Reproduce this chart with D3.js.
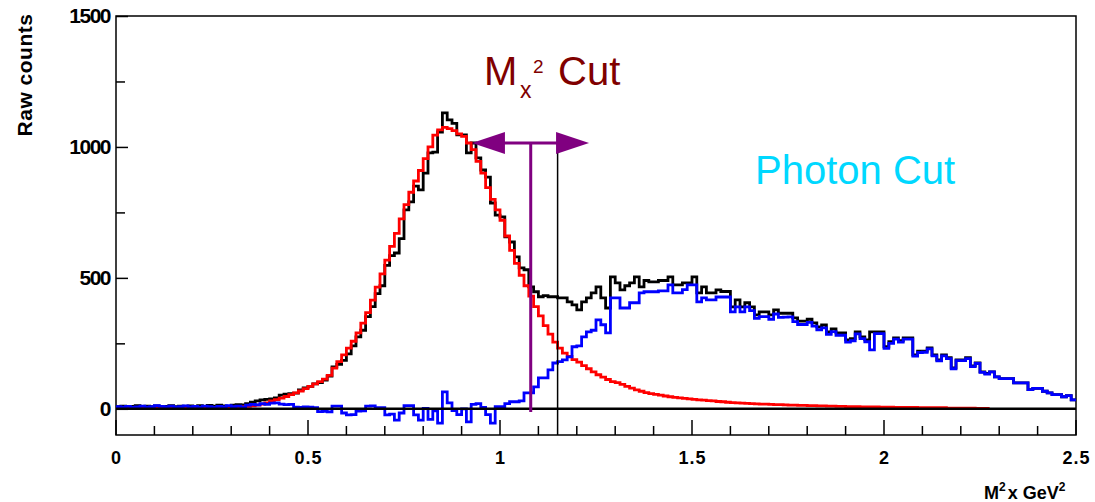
<!DOCTYPE html>
<html>
<head>
<meta charset="utf-8">
<script src="https://cdn.jsdelivr.net/npm/d3@7"></script>
<style>
  body { margin: 0; background: #fff; }
  svg { display: block; font-family: "Liberation Sans", Arial, sans-serif; }
</style>
</head>
<body>
<div id="chart"></div>
<script>
// histogram bin width in GeV^2 (200 bins from 0 to 2.5)
var binWidth = 0.0125;

// black: all events
var totalCounts = [
    8, 10, 6, 9, 12, 7, 10, 8,
    11, 6, 9, 12, 8, 10, 7, 11,
    9, 12, 8, 13, 10, 14, 11, 9,
    14, 16, 15, 20, 25, 30, 34, 36,
    38, 42, 52, 56, 58, 60, 72, 80,
    86, 95, 100, 110, 125, 160, 170, 185,
    210, 240, 275, 300, 352, 390, 440, 470,
    548, 585, 595, 650, 760, 790, 850, 836,
    900, 977, 980, 1057, 1130, 1103, 1090, 1046,
    1046, 977, 1015, 958, 912, 885, 786, 740,
    733, 657, 637, 580, 538, 531, 466, 447,
    428, 432, 428, 428, 424, 424, 408, 397,
    378, 408, 424, 443, 466, 424, 385, 504,
    481, 454, 470, 481, 504, 466, 490, 485,
    485, 490, 490, 504, 473, 473, 481, 481,
    504, 443, 466, 443, 443, 454, 448, 448,
    389, 416, 389, 405, 389, 359, 370, 370,
    359, 378, 365, 365, 365, 347, 335, 335,
    342, 328, 313, 320, 294, 305, 290, 290,
    263, 268, 294, 275, 263, 294, 294, 294,
    237, 256, 271, 260, 271, 271, 206, 220,
    220, 233, 206, 187, 206, 195, 156, 187,
    187, 195, 164, 175, 141, 135, 141, 122,
    115, 115, 115, 99, 99, 99, 73, 78,
    78, 67, 61, 54, 54, 46, 50, 34
];

// red: fitted peak (ends at 2.275)
var fitCounts = [
    1, 1, 1, 1, 1, 1, 2, 2,
    2, 2, 2, 2, 2, 3, 3, 3,
    3, 3, 4, 4, 4, 5, 5, 6,
    6, 7, 8, 9, 11, 14, 18, 23,
    30, 35, 41, 47, 54, 61, 68, 77,
    86, 95, 104, 113, 128, 155, 180, 206,
    232, 258, 290, 327, 367, 415, 465, 515,
    568, 620, 670, 725, 780, 827, 870, 910,
    955, 1000, 1045, 1065, 1075, 1070, 1062, 1050,
    1040, 1015, 990, 945, 900, 845, 800, 760,
    720, 660, 605, 555, 510, 470, 430, 390,
    355, 318, 285, 255, 232, 213, 200, 188,
    178, 165, 153, 141, 130, 121, 112, 104,
    100, 93, 86, 79, 72, 67, 62, 58,
    55, 52, 49, 46, 44, 42, 40, 38,
    36, 34, 33, 31, 30, 28, 27, 25,
    24, 23, 22, 21, 20, 19, 18, 18,
    17, 16, 16, 15, 14, 14, 13, 13,
    12, 12, 11, 11, 10, 10, 9, 9,
    8, 8, 8, 7, 7, 7, 7, 6,
    6, 6, 5, 5, 5, 5, 5, 4,
    4, 4, 4, 4, 4, 3, 3, 3,
    3, 3, 3, 2, 2, 2
];

// blue: events after the photon cut
var subtractedCounts = [
    8, 6, 9, 5, 7, 10, 6, 8,
    12, 9, 7, 10, 6, 8, 11, 7,
    9, 6, 10, 8, 5, 9, 7, 12,
    8, 10, 6, 14, 17, 15, 20, 17,
    22, 23, 18, 16, 17, 6, 5, 7,
    6, 4, -11, -10, -12, 10, 10, -16,
    -23, -22, -9, -8, 10, 11, 4, 4,
    -23, -20, -43, -16, 12, 12, -23, -43,
    2, -40, -8, -55, 65, 23, -7, -22,
    0, -50, 17, 20, 5, -22, -55, 8,
    8, 20, 27, 27, 30, 61, 61, 84,
    118, 118, 149, 175, 180, 187, 198, 237,
    240, 275, 294, 300, 340, 321, 290, 424,
    424, 385, 385, 405, 405, 443, 447, 447,
    447, 450, 450, 473, 443, 443, 455, 473,
    473, 408, 424, 416, 416, 427, 427, 427,
    370, 389, 370, 389, 375, 345, 352, 352,
    342, 362, 349, 350, 351, 333, 322, 322,
    330, 316, 302, 309, 284, 295, 281, 281,
    255, 260, 286, 268, 256, 225, 287, 287,
    231, 250, 266, 255, 266, 266, 201, 215,
    216, 229, 202, 183, 202, 192, 153, 184,
    184, 192, 161, 173, 139, 133, 141, 122,
    115, 115, 115, 99, 99, 99, 73, 78,
    78, 67, 61, 54, 54, 46, 50, 34
];

var xMajorTicks = [0, 0.5, 1, 1.5, 2, 2.5];
var xMinorTicks = [0.1, 0.2, 0.3, 0.4, 0.6, 0.7, 0.8, 0.9, 1.1, 1.2, 1.3, 1.4,
                   1.6, 1.7, 1.8, 1.9, 2.1, 2.2, 2.3, 2.4];
var yMajorTicks = [0, 500, 1000, 1500];
var yMinorTicks = [250, 750, 1250];

// cut markers
var mx2Cut = 1.08;
var photonCutLine = 1.15;
var arrowRange = [0.927, 1.232];
var arrowLevel = 1015;

function init() {
    var width = 1095;
    var height = 502;
    var left = 116, right = 1076, top = 16, bottom = 435;

    var svg = d3.select("#chart")
                .append("svg")
                .attr("width", width)
                .attr("height", height);

    svg.append("rect")
        .attr("width", width)
        .attr("height", height)
        .attr("fill", "#fff");

    var xScale = d3.scaleLinear().domain([0, 2.5]).range([left, right]);
    var yScale = d3.scaleLinear().domain([-100, 1500]).range([bottom, top]);

    // frame
    svg.append("rect")
        .attr("x", left)
        .attr("y", top)
        .attr("width", right - left)
        .attr("height", bottom - top)
        .attr("fill", "none")
        .attr("stroke", "#000")
        .attr("stroke-width", 1.5);

    // X axis labels
    var xAxis = d3.axisBottom(xScale)
                .tickValues(xMajorTicks)
                .tickSize(0)
                .tickPadding(16)
                .tickFormat(d3.format("~g"));
    var gx = svg.append("g")
        .attr("transform", "translate(0," + bottom + ")")
        .call(xAxis);
    gx.select(".domain").remove();
    gx.selectAll("text")
        .style("font-size", "18px")
        .style("font-weight", "bold")
        .style("letter-spacing", "1px")
        .attr("fill", "#000");

    // X ticks pointing up into the frame
    svg.selectAll("line.xmajor")
        .data(xMajorTicks)
        .enter()
        .append("line")
        .attr("class", "xmajor")
        .attr("x1", function(d) { return xScale(d); })
        .attr("x2", function(d) { return xScale(d); })
        .attr("y1", bottom)
        .attr("y2", bottom - 15)
        .attr("stroke", "#000")
        .attr("stroke-width", 1.5);
    svg.selectAll("line.xminor")
        .data(xMinorTicks)
        .enter()
        .append("line")
        .attr("class", "xminor")
        .attr("x1", function(d) { return xScale(d); })
        .attr("x2", function(d) { return xScale(d); })
        .attr("y1", bottom)
        .attr("y2", bottom - 9)
        .attr("stroke", "#000")
        .attr("stroke-width", 1.5);

    // Y axis, ticks pointing right into the frame
    var yAxis = d3.axisLeft(yScale)
                .tickValues(yMajorTicks)
                .tickSize(-12)
                .tickPadding(6)
                .tickFormat(d3.format("d"));
    var gy = svg.append("g")
        .attr("transform", "translate(" + left + ",0)")
        .call(yAxis);
    gy.select(".domain").remove();
    gy.selectAll("line").attr("stroke", "#000").attr("stroke-width", 1.5);
    gy.selectAll("text")
        .style("font-size", "21px")
        .style("font-weight", "bold")
        .style("letter-spacing", "-1.5px")
        .attr("fill", "#000");

    var gym = svg.append("g")
        .attr("transform", "translate(" + left + ",0)")
        .call(d3.axisLeft(yScale).tickValues(yMinorTicks).tickSize(-9).tickFormat(""));
    gym.select(".domain").remove();
    gym.selectAll("line").attr("stroke", "#000").attr("stroke-width", 1.5);

    // axis titles
    svg.append("text")
        .attr("transform", "translate(32,75) rotate(-90)")
        .attr("text-anchor", "middle")
        .style("font-size", "21px")
        .style("font-weight", "bold")
        .style("letter-spacing", "0.5px")
        .text("Raw counts");

    var xt = svg.append("text")
        .attr("x", 984)
        .attr("y", 499)
        .style("font-size", "18px")
        .style("font-weight", "bold");
    xt.append("tspan").text("M");
    xt.append("tspan").attr("dy", -8).style("font-size", "12px").text("2");
    xt.append("tspan").attr("dy", 8).attr("dx", 2).text("x  GeV");
    xt.append("tspan").attr("dy", -8).style("font-size", "12px").text("2");

    // histograms as step lines
    var stepLine = d3.line()
        .x(function(d) { return xScale(d[0]); })
        .y(function(d) { return yScale(d[1]); })
        .curve(d3.curveStepAfter);

    function histPoints(values) {
        var pts = values.map(function(v, i) { return [i * binWidth, v]; });
        pts.push([values.length * binWidth, values[values.length - 1]]);
        return pts;
    }

    var series = [
        {values: totalCounts, color: "#000"},
        {values: fitCounts, color: "#ff0000"},
        {values: subtractedCounts, color: "#0000ff"}
    ];

    svg.selectAll("path.hist")
        .data(series)
        .enter()
        .append("path")
        .attr("class", "hist")
        .attr("d", function(d) { return stepLine(histPoints(d.values)); })
        .attr("fill", "none")
        .attr("stroke", function(d) { return d.color; })
        .attr("stroke-width", 2.8);

    // zero line
    svg.append("line")
        .attr("x1", left)
        .attr("x2", right)
        .attr("y1", yScale(0))
        .attr("y2", yScale(0))
        .attr("stroke", "#000")
        .attr("stroke-width", 2.5);

    // photon cut position (thin black line)
    svg.append("line")
        .attr("x1", xScale(photonCutLine))
        .attr("x2", xScale(photonCutLine))
        .attr("y1", yScale(arrowLevel))
        .attr("y2", bottom)
        .attr("stroke", "#000")
        .attr("stroke-width", 1.5);

    // Mx^2 cut line and double arrow
    var purple = "#800080";
    svg.append("line")
        .attr("x1", xScale(mx2Cut))
        .attr("x2", xScale(mx2Cut))
        .attr("y1", yScale(arrowLevel))
        .attr("y2", yScale(-12))
        .attr("stroke", purple)
        .attr("stroke-width", 3);

    var ay = yScale(arrowLevel);
    var ax0 = xScale(arrowRange[0]);
    var ax1 = xScale(arrowRange[1]);
    svg.append("line")
        .attr("x1", ax0 + 20)
        .attr("x2", ax1 - 20)
        .attr("y1", ay)
        .attr("y2", ay)
        .attr("stroke", purple)
        .attr("stroke-width", 3);
    svg.append("path")
        .attr("d", "M" + ax0 + "," + ay + "L" + (ax0 + 33) + "," + (ay - 11) + "L" + (ax0 + 33) + "," + (ay + 11) + "Z")
        .attr("fill", purple);
    svg.append("path")
        .attr("d", "M" + ax1 + "," + ay + "L" + (ax1 - 33) + "," + (ay - 11) + "L" + (ax1 - 33) + "," + (ay + 11) + "Z")
        .attr("fill", purple);

    // labels
    var darkRed = "#800000";
    svg.append("text").attr("x", 484).attr("y", 85)
        .attr("fill", darkRed).style("font-size", "40px").text("M");
    svg.append("text").attr("x", 520).attr("y", 98)
        .attr("fill", darkRed).style("font-size", "23px").text("x");
    svg.append("text").attr("x", 533).attr("y", 73)
        .attr("fill", darkRed).style("font-size", "19px").text("2");
    svg.append("text").attr("x", 558).attr("y", 85)
        .attr("fill", darkRed).style("font-size", "40px").text("Cut");

    svg.append("text").attr("x", 755).attr("y", 184)
        .attr("fill", "#00d8ff").style("font-size", "40px").text("Photon Cut");
}

window.onload = init;
</script>
</body>
</html>
